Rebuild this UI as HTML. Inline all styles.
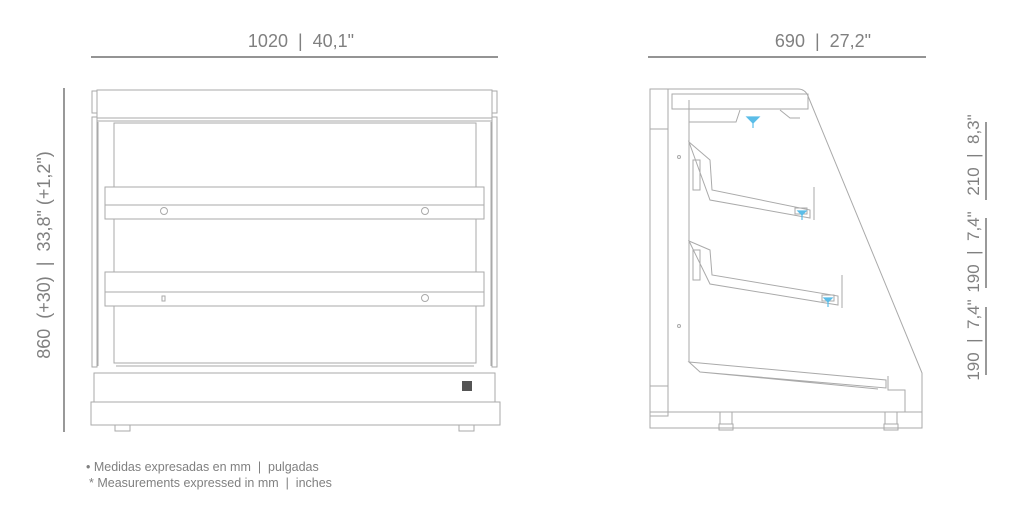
<!DOCTYPE html>
<html><head><meta charset="utf-8"><style>
html,body{margin:0;padding:0;background:#fff;width:1024px;height:508px;overflow:hidden}
svg{display:block}
text{font-family:"Liberation Sans",sans-serif;fill:#808080;white-space:pre}
</style></head><body>
<svg width="1024" height="508" viewBox="0 0 1024 508" xmlns="http://www.w3.org/2000/svg">
<g stroke="#555" stroke-width="1.2" fill="none">
<line x1="91" y1="57" x2="498" y2="57"/>
<line x1="648" y1="57" x2="926" y2="57"/>
<line x1="64" y1="88" x2="64" y2="432"/>
<line x1="986" y1="122" x2="986" y2="200"/>
<line x1="986" y1="218" x2="986" y2="288"/>
<line x1="986" y1="307" x2="986" y2="375"/>
</g>
<text x="301" y="47" font-size="18" text-anchor="middle">1020  |  40,1"</text>
<text x="823" y="47" font-size="18" text-anchor="middle">690  |  27,2"</text>
<text transform="translate(50,255) rotate(-90)" font-size="18" text-anchor="middle">860  (+30)  |  33,8" (+1,2")</text>
<text transform="translate(979,340) rotate(-90)" font-size="17" text-anchor="middle">190  |  7,4"</text>
<text transform="translate(979,252) rotate(-90)" font-size="17" text-anchor="middle">190  |  7,4"</text>
<text transform="translate(979,155) rotate(-90)" font-size="17" text-anchor="middle">210  |  8,3"</text>
<text x="86" y="471" font-size="12.5" fill="#666">• Medidas expresadas en mm  |  pulgadas</text>
<text x="89" y="487" font-size="12.5">* Measurements expressed in mm  |  inches</text>

<!-- front view -->
<g stroke="#aaa" stroke-width="1" fill="none">
<rect x="97" y="90" width="395" height="28"/>
<rect x="92" y="91" width="5" height="22"/><rect x="492" y="91" width="5" height="22"/>
<rect x="92" y="117" width="5" height="250"/><rect x="492" y="117" width="5" height="250"/>
<line x1="97" y1="121" x2="492" y2="121"/>
<rect x="114" y="123" width="362" height="240"/>
<line x1="98" y1="122" x2="98" y2="366"/><line x1="491" y1="122" x2="491" y2="366"/>
<rect x="105" y="187" width="379" height="32" fill="#fff"/>
<line x1="105" y1="205" x2="484" y2="205"/>
<circle cx="164" cy="211" r="3.5"/><circle cx="425" cy="211" r="3.5"/>
<rect x="105" y="272" width="379" height="34" fill="#fff"/>
<line x1="105" y1="292" x2="484" y2="292"/>
<rect x="162" y="296" width="3" height="5"/><circle cx="425" cy="298" r="3.5"/>
<line x1="116" y1="366" x2="474" y2="366"/>
<rect x="94" y="373" width="401" height="29"/>
<rect x="91" y="402" width="409" height="23"/>
<rect x="115" y="425" width="15" height="6"/><rect x="459" y="425" width="15" height="6"/>
</g>
<rect x="462" y="381" width="10" height="10" fill="#555"/>

<!-- side view -->
<g stroke="#aaa" stroke-width="1" fill="none">
<path d="M650 89 H798 Q805 89 808 96 L922 373 V428 H650 Z"/>
<rect x="650" y="89" width="18" height="40"/>
<line x1="668" y1="128" x2="668" y2="386"/>
<line x1="689" y1="100" x2="689" y2="362"/>
<rect x="672" y="94" width="136" height="15"/>
<path d="M689 122 H736 L740 110 M780 110 L790 118 H800"/>
<rect x="650" y="386" width="18" height="30"/>
<path d="M689 142 L710 160 L712 190 L810 210 L810 218 L710 200 Z"/>
<rect x="693" y="160" width="7" height="30"/>
<line x1="814" y1="187" x2="814" y2="220"/>
<rect x="795" y="208" width="12" height="6"/>
<path d="M689 241 L710 250 L712 275 L838 296 L838 305 L710 284 Z"/>
<rect x="693" y="250" width="7" height="30"/>
<line x1="842" y1="275" x2="842" y2="308"/>
<rect x="822" y="295" width="12" height="6"/>
<path d="M689 362 L886 380 V388 L700 372 Z M700 372 L878 389"/>
<path d="M888 376 V390 H905 V412 H918"/>
<line x1="650" y1="412" x2="922" y2="412"/>
<rect x="720" y="412" width="12" height="12"/><rect x="885" y="412" width="12" height="12"/>
<rect x="719" y="424" width="14" height="6"/><rect x="884" y="424" width="14" height="6"/>
<circle cx="679" cy="157" r="1.5"/><circle cx="679" cy="326" r="1.5"/>
</g>
<g stroke="#5bbde8" stroke-width="1.2" fill="none">
<path d="M747 117 L753 123 L759 117 Z" fill="#5bbde8"/><line x1="753" y1="123" x2="753" y2="128"/>
<path d="M798 211 L802 215 L806 211 Z" fill="#5bbde8"/><line x1="802" y1="215" x2="802" y2="220"/>
<path d="M824 298 L828 302 L832 298 Z" fill="#5bbde8"/><line x1="828" y1="302" x2="828" y2="307"/>
</g>
</svg>
</body></html>
